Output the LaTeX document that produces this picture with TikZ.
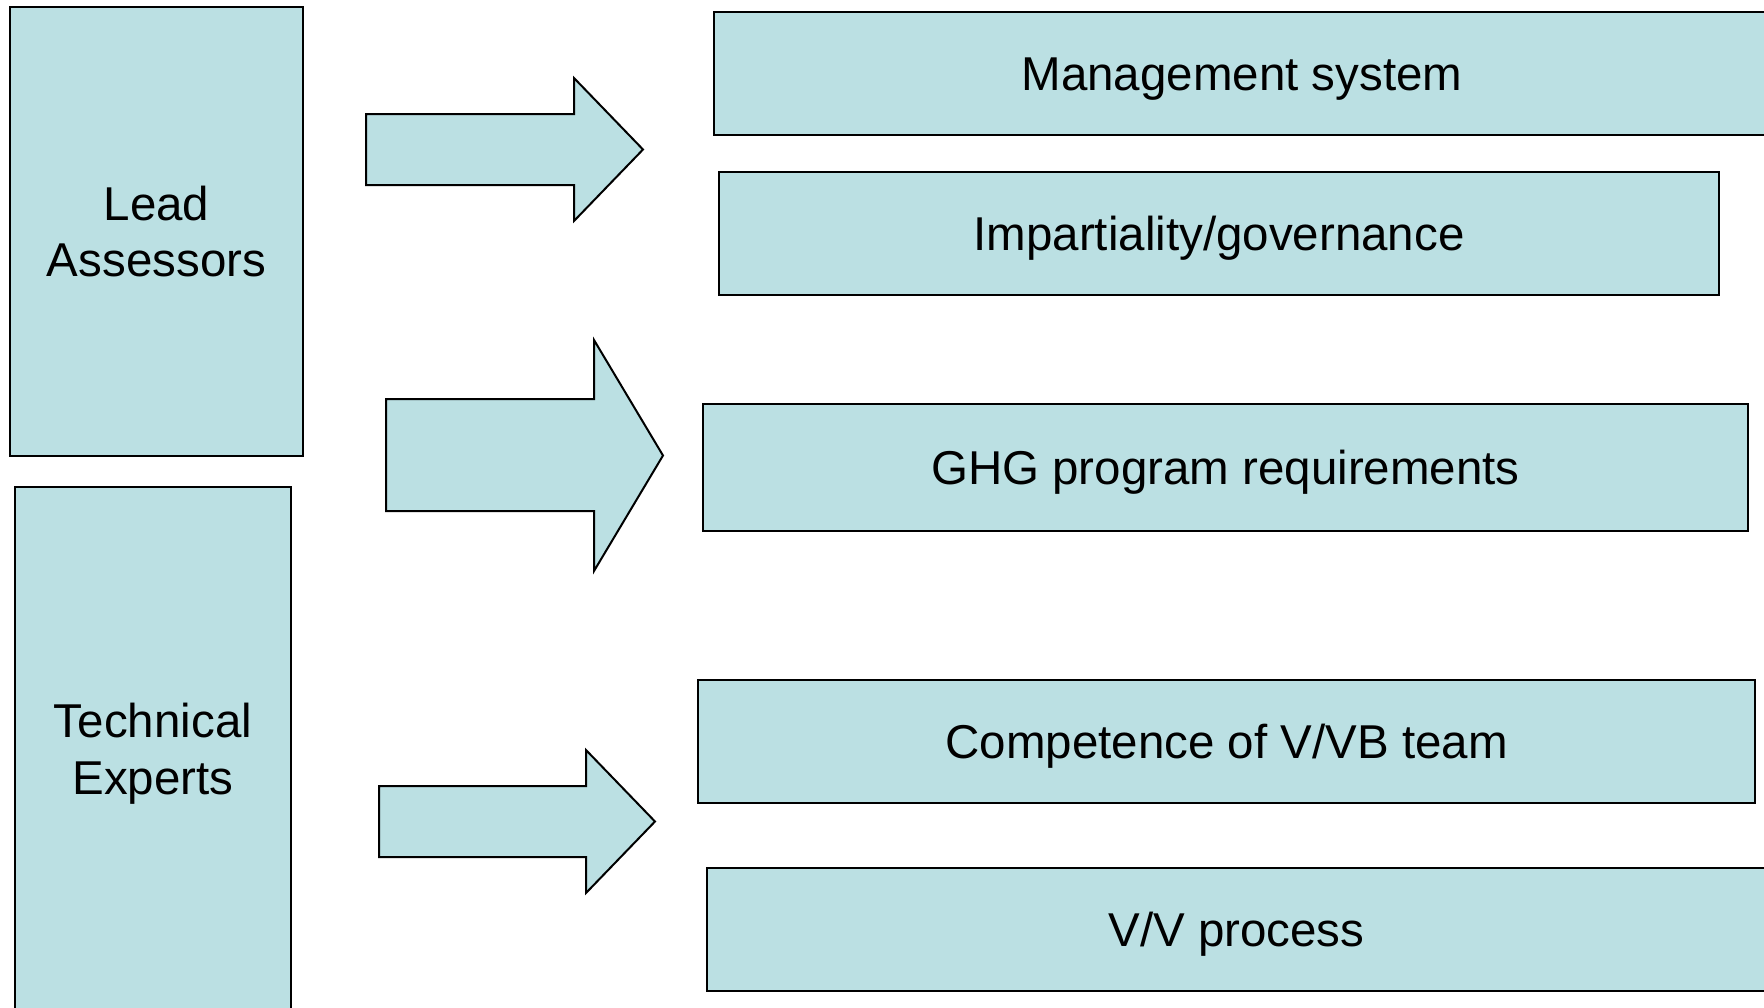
\documentclass[tikz,border=0pt]{standalone}
\usepackage{fontspec}
\setmainfont{Liberation Sans}
\definecolor{boxfill}{RGB}{187,224,227}
\tikzset{
  every node/.style={font=\fontsize{47.5}{56.5}\selectfont},
  sidebox/.style={draw=black, line width=2pt, fill=boxfill, inner sep=0pt, align=center},
  topicbox/.style={draw=black, line width=2pt, fill=boxfill, inner sep=0pt, text height=34pt, text depth=0pt},
  blockarrow/.style={draw=black, line width=2pt, fill=boxfill, line join=miter}
}
\begin{document}
\begin{tikzpicture}[x=1pt,y=-1pt]
\useasboundingbox (0,0) rectangle (1764,1007);
\clip (0,0) rectangle (1764,1007);
% left boxes
\node[sidebox, minimum width=293pt, minimum height=449pt] (lead) at (156.5,231.5) {Lead\\Assessors};
\node[sidebox, minimum width=276pt, minimum height=533pt] (tech) at (153,753.5) {Technical\\Experts};
% right boxes
\node[topicbox, minimum width=1056pt, minimum height=123pt] (mgmt) at (1242,73.5) {Management system};
\node[topicbox, minimum width=1000pt, minimum height=123pt] (imp) at (1219,233.5) {Impartiality/governance};
\node[topicbox, minimum width=1045pt, minimum height=127pt] (ghg) at (1225.5,467.5) {GHG program requirements};
\node[topicbox, minimum width=1057pt, minimum height=123pt] (comp) at (1226.5,741.5) {Competence of V/VB team};
\node[topicbox, minimum width=1059pt, minimum height=123pt] (vv) at (1236.5,929.5) {V/V process};
% block arrows
\draw[blockarrow] (366,114) -- (574,114) -- (574,78) -- (643,149.5) -- (574,221) -- (574,185) -- (366,185) -- cycle;
\draw[blockarrow] (386,399) -- (594,399) -- (594,340) -- (663,455.5) -- (594,571) -- (594,511) -- (386,511) -- cycle;
\draw[blockarrow] (379,786) -- (586,786) -- (586,750) -- (655,821.5) -- (586,893) -- (586,857) -- (379,857) -- cycle;
\end{tikzpicture}
\end{document}
